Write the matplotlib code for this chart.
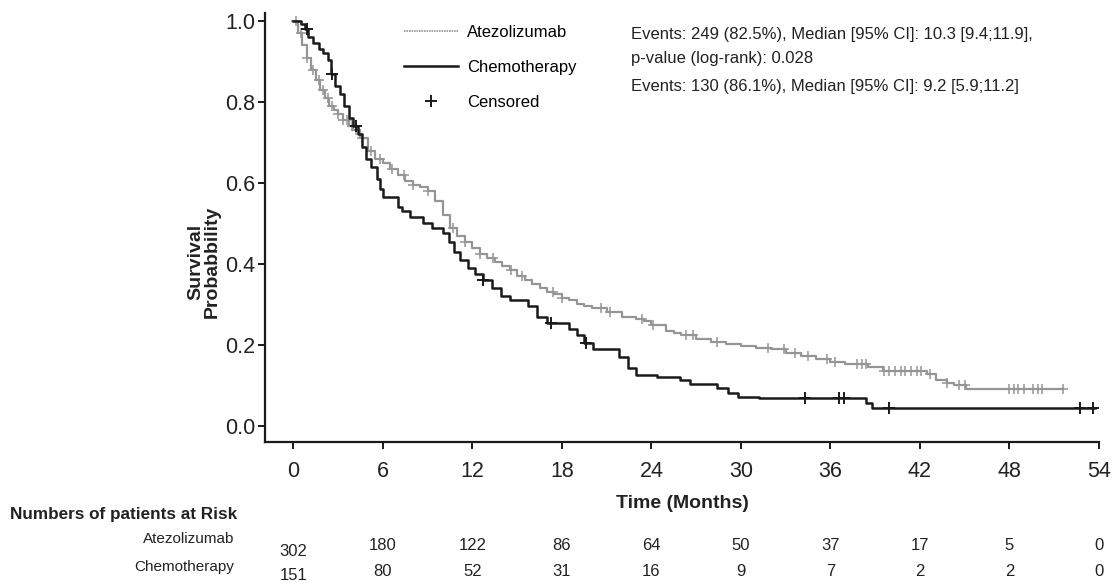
import numpy as np
import matplotlib
matplotlib.use("Agg")
import matplotlib.pyplot as plt
import matplotlib.transforms as mtrans
from matplotlib.lines import Line2D

# Atezolizumab KM curve (months, survival)
atezo_t = [0, 0.3, 0.6, 0.9, 1.2, 1.5, 1.8, 2.1, 2.4, 2.7, 3.0, 3.3, 3.7, 4.0, 4.5, 5.0, 5.5,
           6.0, 6.5, 7.0, 7.5, 8.0, 8.5, 9.0, 9.5, 10.0, 10.5, 11.0, 11.5, 12.0, 12.5, 13.0,
           13.5, 14.0, 14.5, 15.0, 15.5, 16.0, 16.5, 17.0, 17.5, 18.0, 18.5, 19.0, 19.5, 20.0,
           21.0, 22.0, 23.0, 23.5, 24.0, 25.0, 25.5, 26.0, 27.0, 28.0, 29.0, 30.0, 31.0, 32.0,
           33.0, 34.0, 35.0, 36.0, 37.0, 38.5, 39.5, 42.5, 43.1, 43.8, 44.3, 45.1, 51.6]
atezo_s = [1.0, 0.97, 0.94, 0.91, 0.88, 0.855, 0.83, 0.81, 0.79, 0.78, 0.77, 0.755, 0.74, 0.73,
           0.71, 0.68, 0.66, 0.65, 0.635, 0.62, 0.605, 0.595, 0.59, 0.58, 0.555, 0.52, 0.49,
           0.47, 0.455, 0.44, 0.425, 0.415, 0.405, 0.395, 0.385, 0.37, 0.36, 0.35, 0.34, 0.33,
           0.325, 0.315, 0.31, 0.30, 0.295, 0.29, 0.28, 0.27, 0.265, 0.26, 0.25, 0.235, 0.23,
           0.225, 0.215, 0.208, 0.203, 0.197, 0.193, 0.19, 0.18, 0.172, 0.165, 0.158, 0.152,
           0.145, 0.135, 0.128, 0.113, 0.106, 0.10, 0.092, 0.092]
atezo_cens = [0.2, 0.5, 0.9, 1.3, 1.7, 2.0, 2.3, 2.6, 3.0, 3.3, 3.6, 3.9, 4.2, 4.6, 5.2, 5.8,
              6.6, 7.4, 8.0, 9.0, 10.7, 11.5, 12.5, 13.4, 14.6, 15.3, 17.4, 18.0, 20.6, 21.2,
              23.4, 24.1, 26.3, 26.8, 28.4, 31.8, 32.9, 33.6, 34.5, 35.8, 36.3, 37.8, 38.1,
              38.4, 39.6, 39.9, 40.3, 40.7, 41.0, 41.4, 41.8, 42.1, 42.7, 43.8, 44.6, 45.0,
              48.0, 48.3, 48.6, 49.0, 49.6, 49.9, 50.2, 51.6]

# Chemotherapy KM curve
chemo_t = [0, 0.5, 0.8, 1.0, 1.3, 1.7, 2.0, 2.3, 2.5, 2.8, 3.1, 3.4, 3.7, 4.0, 4.3, 4.6, 4.9,
           5.2, 5.6, 5.8, 6.0, 7.0, 7.3, 7.8, 8.7, 9.3, 10.0, 10.4, 10.8, 11.2, 11.7, 12.2,
           12.7, 13.3, 13.9, 14.5, 15.7, 16.3, 17.0, 18.5, 19.0, 19.5, 20.1, 21.8, 22.4, 23.0,
           24.4, 25.9, 26.6, 28.4, 29.1, 29.8, 31.2, 38.4, 38.8, 53.7]
chemo_s = [1.0, 0.993, 0.98, 0.96, 0.945, 0.93, 0.92, 0.905, 0.87, 0.84, 0.82, 0.79, 0.76,
           0.74, 0.72, 0.69, 0.66, 0.64, 0.61, 0.585, 0.565, 0.54, 0.53, 0.515, 0.50, 0.49,
           0.476, 0.455, 0.43, 0.41, 0.39, 0.375, 0.36, 0.34, 0.32, 0.31, 0.295, 0.27, 0.253,
           0.24, 0.225, 0.205, 0.19, 0.17, 0.143, 0.126, 0.12, 0.113, 0.104, 0.094, 0.081,
           0.072, 0.068, 0.057, 0.045, 0.045]
chemo_cens = [0.9, 2.6, 4.2, 12.7, 17.3, 19.6, 34.3, 36.6, 36.9, 39.9, 52.7, 53.6]

# numbers at risk
risk_times = [0, 6, 12, 18, 24, 30, 36, 42, 48, 54]
risk_atezo = [302, 180, 122, 86, 64, 50, 37, 17, 5, 0]
risk_chemo = [151, 80, 52, 31, 16, 9, 7, 2, 2, 0]

x_ticks = [0, 6, 12, 18, 24, 30, 36, 42, 48, 54]
y_ticks = [0.0, 0.2, 0.4, 0.6, 0.8, 1.0]

GREY = "#959595"
BLACK = "#1a1a1a"
TXT = "#222222"

plt.rcParams["font.family"] = ["Liberation Sans", "DejaVu Sans"]


def surv_at(times, surv, t):
  idx = np.searchsorted(times, t, side="right") - 1
  return np.asarray(surv)[idx]


W, H = 1112, 584
fig = plt.figure(figsize=(W / 100, H / 100), dpi=100)
ax = fig.add_axes([265 / W, 1 - 442 / H, (1099 - 265) / W, (442 - 13) / H])

ax.plot(atezo_t, atezo_s, drawstyle="steps-post", color=GREY, lw=1.6, zorder=2)
ax.plot(chemo_t, chemo_s, drawstyle="steps-post", color=BLACK, lw=1.8, zorder=3)
ax.plot(atezo_cens, surv_at(atezo_t, atezo_s, atezo_cens), ls="none", marker="+",
        ms=7, mew=1.1, color=GREY, zorder=2)
ax.plot(chemo_cens, surv_at(chemo_t, chemo_s, chemo_cens), ls="none", marker="+",
        ms=8, mew=1.4, color=BLACK, zorder=3)

ax.set_xlim(-1.9, 54)
ax.set_ylim(-0.04, 1.02)
ax.set_xticks(x_ticks)
ax.set_yticks(y_ticks)
ax.set_yticklabels([f"{v:.1f}" for v in y_ticks])
for s in ["top", "right"]:
  ax.spines[s].set_visible(False)
for s in ["left", "bottom"]:
  ax.spines[s].set_linewidth(1.6)
  ax.spines[s].set_color(BLACK)
ax.tick_params(axis="both", direction="out", length=5, width=1.4, labelsize=15.5,
               colors=BLACK, labelcolor=TXT)
ax.tick_params(axis="x", pad=9)
ax.tick_params(axis="y", pad=2)

handles = [Line2D([], [], color=GREY, lw=1.2, ls=(0, (1, 0.5))),
           Line2D([], [], color=BLACK, lw=1.8),
           Line2D([], [], color=BLACK, ls="none", marker="+", ms=8, mew=1.4)]
ax.legend(handles, ["Atezolizumab", "Chemotherapy", "Censored"], loc="upper left",
          bbox_to_anchor=(0.159, 0.988), frameon=False, fontsize=12, handlelength=3.2,
          handletextpad=0.55, labelspacing=1.2, borderaxespad=0)

txt_kw = dict(fontsize=12, color=TXT, va="center", ha="left")
fig.text(631 / W, 1 - 34 / H, "Events: 249 (82.5%), Median [95% CI]: 10.3 [9.4;11.9],", **txt_kw)
fig.text(631 / W, 1 - 58 / H, "p-value (log-rank): 0.028", **txt_kw)
fig.text(631 / W, 1 - 87 / H, "Events: 130 (86.1%), Median [95% CI]: 9.2 [5.9;11.2]", **txt_kw)

fig.text(204 / W, 1 - 262 / H, "Survival\nProbabbility", rotation=90, ha="center",
         va="center", multialignment="center", fontsize=14, fontweight="bold",
         color=TXT, linespacing=0.95)
fig.text(682 / W, 1 - 503 / H, "Time (Months)", ha="center", va="center", fontsize=14,
         fontweight="bold", color=TXT)

# risk table
fig.text(10 / W, 1 - 515 / H, "Numbers of patients at Risk", ha="left", va="center",
         fontsize=12.3, fontweight="bold", color=TXT)
fig.text(234 / W, 1 - 539 / H, "Atezolizumab", ha="right", va="center", fontsize=11,
         color=TXT)
fig.text(234 / W, 1 - 567 / H, "Chemotherapy", ha="right", va="center", fontsize=11,
         color=TXT)
blend = mtrans.blended_transform_factory(ax.transData, fig.transFigure)
for i, t in enumerate(risk_times):
  dy = 6 if i == 0 else 0
  ax.text(t, 1 - (545 + dy) / H, str(risk_atezo[i]), transform=blend, ha="center",
          va="center", fontsize=12, color=TXT)
  ax.text(t, 1 - (572 + dy / 2) / H, str(risk_chemo[i]), transform=blend, ha="center",
          va="center", fontsize=12, color=TXT)

fig.savefig("out.png", dpi=100)
